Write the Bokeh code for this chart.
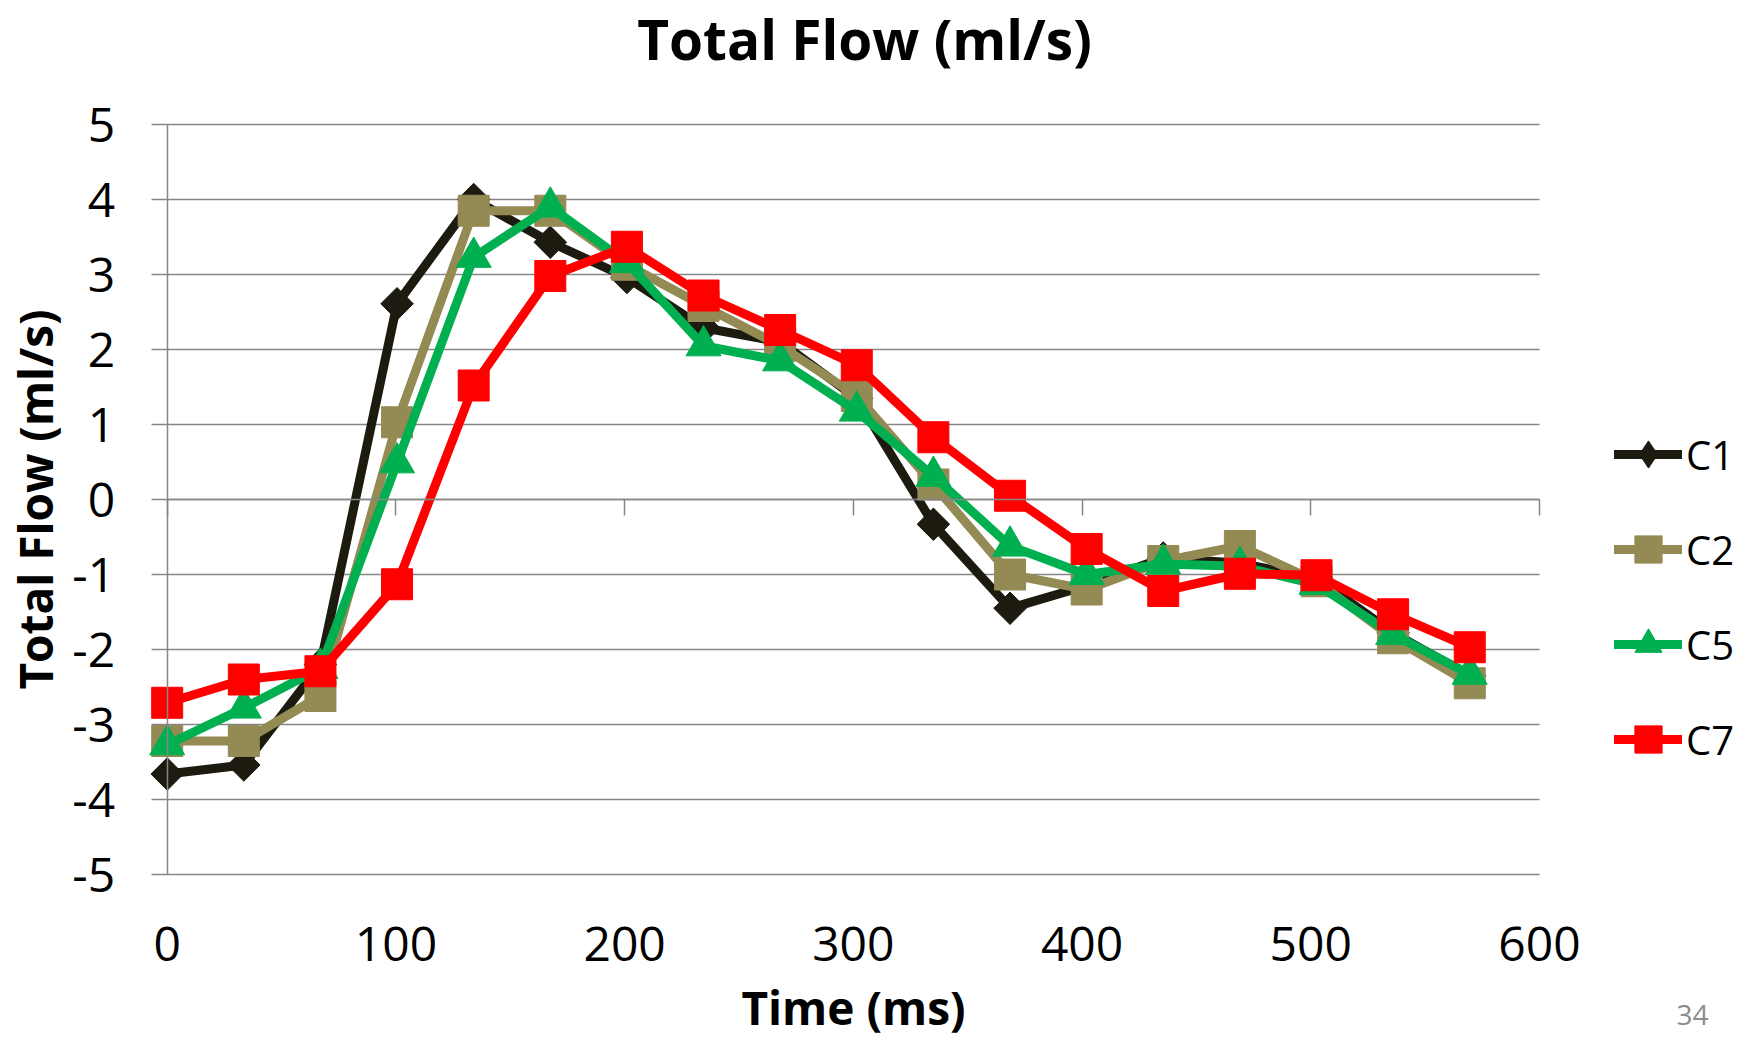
import math
from bokeh.plotting import figure
from bokeh.models import (FixedTicker, LinearAxis, Range1d, Legend, LegendItem,
                          Label, CustomJSTickFormatter, ColumnDataSource)
from bokeh.embed import file_html
from bokeh.resources import INLINE

# ---- data ----
times = [0, 33.5, 67, 100.5, 134, 167.5, 201, 234.5, 268, 301.5,
         335, 368.5, 402, 435.5, 469, 502.5, 536, 569.5]
c1 = [-3.66, -3.54, -2.2, 2.61, 4.0, 3.43, 2.96, 2.29, 2.1, 1.35,
      -0.33, -1.45, -1.15, -0.78, -0.85, -1.05, -1.78, -2.35]
c2 = [-3.22, -3.22, -2.62, 1.03, 3.85, 3.85, 3.13, 2.58, 2.05, 1.38,
      0.20, -1.0, -1.2, -0.82, -0.62, -1.09, -1.85, -2.45]
c5 = [-3.27, -2.78, -2.25, 0.49, 3.23, 3.9, 3.16, 2.05, 1.85, 1.18,
      0.31, -0.62, -1.0, -0.86, -0.89, -1.13, -1.8, -2.33]
c7 = [-2.71, -2.40, -2.29, -1.13, 1.52, 2.98, 3.37, 2.72, 2.26, 1.79,
      0.83, 0.05, -0.66, -1.22, -0.99, -1.01, -1.53, -1.97]
series_names = ["C1", "C2", "C5", "C7"]
x_ticks = [0, 100, 200, 300, 400, 500, 600]
y_ticks = [-5, -4, -3, -2, -1, 0, 1, 2, 3, 4, 5]
y_tick_labels = ["-5", "-4", "-3", "-2", "-1", "0", "1", "2", "3", "4", "5"]
title_text = "Total Flow (ml/s)"
x_title = "Time (ms)"
y_title = "Total Flow (ml/s)"
page_number = "34"

# ---- layout (page pixels) ----
W, H = 1750, 1039
PX_X0, PX_X1 = 166.7, 1539.0      # where x = 0 and x = 600 sit
PX_YTOP, PX_YBOT = 124.0, 874.0   # where y = 5 and y = -5 sit
x_min, x_max = x_ticks[0], x_ticks[-1]
y_min, y_max = y_ticks[0], y_ticks[-1]
xs_ = (PX_X1 - PX_X0) / (x_max - x_min)
ys_ = (PX_YBOT - PX_YTOP) / (y_max - y_min)
x_range = Range1d(x_min - PX_X0 / xs_, x_max + (W - PX_X1) / xs_)
y_range = Range1d(y_min - (H - PX_YBOT) / ys_, y_max + PX_YTOP / ys_)

# ---- styles ----
FONT = "Open Sans"
GRID = "#868686"
colors = ["#1D1B10", "#948A54", "#00B050", "#FF0000"]
markers = ["square", "square", "triangle", "square"]
legend_markers = ["diamond", "square", "triangle", "square"]
angles = [math.pi / 4, 0, 0, 0]
sizes = [23, 31, 35, 31]

p = figure(width=W, height=H, output_backend="svg", toolbar_location=None,
           x_range=x_range, y_range=y_range,
           x_axis_type=None, y_axis_type=None,
           min_border=0, min_border_left=0, min_border_right=0,
           min_border_top=0, min_border_bottom=0)
p.outline_line_color = None
p.background_fill_color = "white"
p.border_fill_color = "white"

# horizontal gridlines across the plot area
p.segment(x0=[x_min] * len(y_ticks), x1=[x_max] * len(y_ticks), y0=y_ticks, y1=y_ticks,
          line_color=GRID, line_width=1.5, level="underlay")

# y axis at x = 0
ya = LinearAxis(fixed_location=x_min, bounds=(y_min, y_max),
                ticker=FixedTicker(ticks=y_ticks))
ya.major_label_overrides = {v: s for v, s in zip(y_ticks, y_tick_labels)}
ya.axis_line_color = GRID
ya.axis_line_width = 1.5
ya.major_tick_line_color = GRID
ya.major_tick_line_width = 1.5
ya.major_tick_out = 16
ya.major_tick_in = 0
ya.minor_tick_line_color = None
ya.major_label_standoff = 36
ya.major_label_text_font = FONT
ya.major_label_text_font_size = "48px"
ya.major_label_text_color = "black"
ya.axis_label = y_title
ya.axis_label_standoff = 4
ya.axis_label_text_font = FONT
ya.axis_label_text_font_style = "bold"
ya.axis_label_text_font_size = "46px"
ya.axis_label_text_color = "black"
p.add_layout(ya, "left")

# x axis line crossing at y = 0
zero_axis = LinearAxis(fixed_location=0, bounds=(x_min, x_max),
                       ticker=FixedTicker(ticks=x_ticks),
                       formatter=CustomJSTickFormatter(code="return ''"),
                       axis_line_color=GRID, axis_line_width=1.5,
                       major_tick_line_color=GRID, major_tick_line_width=1.5,
                       major_tick_out=16, major_tick_in=0,
                       minor_tick_line_color=None)
p.add_layout(zero_axis, "below")

# x tick labels and title below the plot area
xa = LinearAxis(fixed_location=y_min, bounds=(x_min, x_max),
                ticker=FixedTicker(ticks=x_ticks))
xa.axis_line_color = None
xa.major_tick_line_color = None
xa.minor_tick_line_color = None
xa.major_tick_out = 0
xa.major_tick_in = 0
xa.major_label_standoff = 52
xa.major_label_text_font = FONT
xa.major_label_text_font_size = "48px"
xa.major_label_text_color = "black"
xa.axis_label = x_title
xa.axis_label_standoff = 12
xa.axis_label_text_font = FONT
xa.axis_label_text_font_style = "bold"
xa.axis_label_text_font_size = "46px"
xa.axis_label_text_color = "black"
p.add_layout(xa, "below")

# series
items = []
for name, ys, color, marker, lmarker, angle, size in zip(
        series_names, [c1, c2, c5, c7], colors, markers, legend_markers, angles, sizes):
    src = ColumnDataSource(dict(t=times, v=ys))
    lr = p.line("t", "v", source=src, line_color=color, line_width=9,
                line_join="round", line_cap="round")
    sr = p.scatter("t", "v", source=src, marker=marker, size=size, angle=angle,
                   fill_color=color, line_color=color, line_width=1)
    if lmarker != marker:
        # legend symbol only (the legend does not rotate markers)
        kr = p.scatter("t", "v", source=src, marker=lmarker, size=size,
                       fill_color=color, line_color=color, line_width=1, visible=False)
        items.append(LegendItem(label=name, renderers=[lr, kr]))
    else:
        items.append(LegendItem(label=name, renderers=[lr, sr]))

legend = Legend(items=items, location=(1614, H - 777), orientation="vertical",
                glyph_width=68, glyph_height=76, spacing=19, padding=0, margin=0,
                label_standoff=4, label_text_font=FONT, label_text_font_size="40px",
                label_text_color="black", inactive_fill_alpha=0,
                background_fill_alpha=0, border_line_color=None)
p.add_layout(legend)

# title and page number
p.add_layout(Label(x=864, y=H - 38, x_units="screen", y_units="screen", text=title_text,
                   text_font=FONT, text_font_style="bold", text_font_size="55px",
                   text_align="center", text_baseline="alphabetic", text_color="black"))
p.add_layout(Label(x=1692, y=H - 1014, x_units="screen", y_units="screen",
                   text=page_number, text_font=FONT, text_font_size="28px",
                   text_color="#8C8C8C", text_align="center", text_baseline="alphabetic"))

open("out.html", "w").write(file_html(p, INLINE))
